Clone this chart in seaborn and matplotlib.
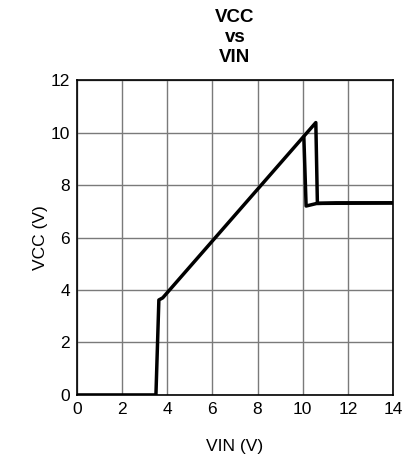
import matplotlib
matplotlib.use("Agg")
import matplotlib.pyplot as plt
import seaborn as sns
import pandas as pd

# rising path (VIN increasing)
vin_up = [0, 3.5, 3.63, 3.8, 10.58, 10.65, 11.5, 14]
vcc_up = [0, 0, 3.62, 3.7, 10.38, 7.3, 7.32, 7.32]
# falling path (VIN decreasing)
vin_down = [14, 10.63, 10.15, 10.05]
vcc_down = [7.32, 7.3, 7.2, 9.83]

sns.set_style("white")
plt.rcParams['font.family'] = ['Liberation Sans', 'DejaVu Sans']
plt.rcParams['text.color'] = 'black'
plt.rcParams['axes.labelcolor'] = 'black'
plt.rcParams['xtick.color'] = 'black'
plt.rcParams['ytick.color'] = 'black'

fig = plt.figure(figsize=(4.09, 4.55), dpi=100)
ax = fig.add_axes([0.188, 0.132, 0.773, 0.692])

up = pd.DataFrame({"VIN": vin_up, "VCC": vcc_up})
down = pd.DataFrame({"VIN": vin_down, "VCC": vcc_down})
sns.lineplot(data=up, x="VIN", y="VCC", sort=False, color="black", lw=2.5, ax=ax)
sns.lineplot(data=down, x="VIN", y="VCC", sort=False, color="black", lw=2.5, ax=ax)

ax.set_xlim(0, 14)
ax.set_ylim(0, 12)
ax.set_xticks(range(0, 15, 2))
ax.set_yticks(range(0, 13, 2))
ax.grid(True, color="#7a7a7a", lw=1)
for s in ax.spines.values():
    s.set_color("black")
    s.set_linewidth(1.2)
ax.tick_params(labelsize=12.5, length=0, pad=5)
ax.set_xlabel("VIN (V)", fontsize=12.5, labelpad=16)
ax.set_ylabel("VCC (V)", fontsize=12.5, labelpad=2)
ax.set_title("VCC\nvs\nVIN", fontsize=13.5, fontweight="bold", linespacing=1.25, pad=13)

fig.savefig("out.png", dpi=100)
